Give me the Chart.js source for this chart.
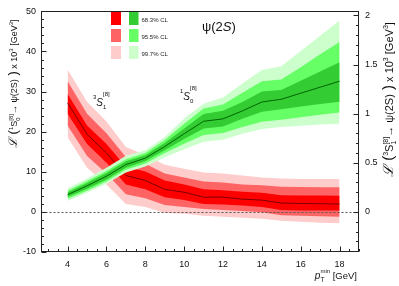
<!DOCTYPE html>
<html>
<head>
<meta charset="utf-8">
<script src="https://cdn.jsdelivr.net/npm/chart.js@4.4.1/dist/chart.umd.min.js"></script>
<style>
  html, body { margin: 0; padding: 0; background: #fff; }
  canvas { display: block; }
</style>
</head>
<body>
<canvas id="myChart" width="399" height="286"></canvas>
<script>
// pT min values [GeV]
const pT = [4, 5, 6, 7, 8, 9, 10, 11, 12, 13, 14, 15, 16, 17, 18];

// 3S1[8] (red) - right axis units
const redCentral = [1.11, 0.79, 0.60, 0.37, 0.32, 0.23, 0.20, 0.15, 0.15, 0.13, 0.12, 0.09, 0.086, 0.083, 0.08];
const red68Hi = [1.20, 0.88, 0.69, 0.46, 0.41, 0.32, 0.28, 0.23, 0.22, 0.205, 0.195, 0.17, 0.168, 0.166, 0.165];
const red68Lo = [1.00, 0.69, 0.50, 0.28, 0.23, 0.15, 0.12, 0.08, 0.075, 0.065, 0.05, 0.02, 0.015, 0.013, 0.013];
const red95Hi = [1.33, 1.00, 0.80, 0.56, 0.49, 0.39, 0.35, 0.31, 0.30, 0.28, 0.27, 0.255, 0.253, 0.25, 0.25];
const red95Lo = [0.88, 0.57, 0.39, 0.18, 0.14, 0.07, 0.05, 0.03, 0.02, 0.01, -0.004, -0.035, -0.04, -0.045, -0.05];
const red99Hi = [1.45, 1.12, 0.92, 0.66, 0.58, 0.48, 0.44, 0.40, 0.39, 0.37, 0.35, 0.34, 0.335, 0.335, 0.335];
const red99Lo = [0.76, 0.45, 0.28, 0.08, 0.05, -0.01, -0.02, -0.04, -0.05, -0.06, -0.07, -0.09, -0.10, -0.11, -0.115];

// 1S0[8] (green) - left axis units
const greenCentral = [4.3, 6.5, 8.9, 11.8, 13.4, 16.3, 19.5, 22.6, 23.2, 25.2, 27.4, 28.1, 29.6, 31.1, 32.6];
const green68Hi = [4.9, 7.2, 9.7, 12.6, 14.1, 17.2, 20.8, 24.4, 25.2, 27.4, 30.0, 30.4, 32.7, 35.0, 37.3];
const green68Lo = [3.7, 5.8, 8.1, 11.0, 12.7, 15.4, 18.2, 20.8, 21.3, 23.2, 25.0, 25.6, 26.3, 26.9, 27.5];
const green95Hi = [5.3, 7.7, 10.2, 13.1, 14.7, 17.9, 22.0, 25.8, 26.8, 29.7, 32.6, 33.0, 36.1, 39.3, 42.4];
const green95Lo = [3.3, 5.3, 7.6, 10.5, 12.1, 14.7, 17.0, 19.2, 19.7, 21.2, 22.5, 23.0, 23.6, 24.2, 24.8];
const green99Hi = [5.9, 8.3, 11.0, 14.0, 15.4, 18.7, 23.3, 27.0, 28.5, 32.0, 35.4, 36.3, 40.1, 43.9, 47.7];
const green99Lo = [2.7, 4.8, 7.0, 9.8, 11.3, 13.6, 15.6, 17.5, 18.0, 19.5, 20.7, 21.2, 21.5, 21.8, 22.0];

// tick labels
const xTicks = [4, 6, 8, 10, 12, 14, 16, 18];
const yTicks = [-10, 0, 10, 20, 30, 40, 50];
const y2Ticks = [0, 0.5, 1, 1.5, 2];
const clLabels = ['68.3% CL', '95.5% CL', '99.7% CL'];

const RED = ['#ff0000', '#ff6464', '#ffcccc'];
const GREEN = ['#33cc33', '#66ff66', '#ccffcc'];

const SANS = '"Liberation Sans", Arial, sans-serif';
function fnt(size, style) { return (style ? style + ' ' : '') + size + 'px ' + SANS; }

function pts(arr) { return pT.map((p, i) => ({ x: p, y: arr[i] })); }

// band = 2 datasets, upper filled down to lower
function band(hi, lo, color, axis, order) {
  return [
    { data: pts(hi), yAxisID: axis, fill: '+1', backgroundColor: color, borderWidth: 0, pointRadius: 0, order: order },
    { data: pts(lo), yAxisID: axis, fill: false, borderWidth: 0, pointRadius: 0, order: order }
  ];
}

const datasets = [
  ...band(red99Hi, red99Lo, RED[2], 'y2', 10),
  ...band(red95Hi, red95Lo, RED[1], 'y2', 9),
  ...band(red68Hi, red68Lo, RED[0], 'y2', 8),
  { data: pts(redCentral), yAxisID: 'y2', borderColor: '#7a0000', borderWidth: 1, pointRadius: 0, fill: false, order: 7 },
  ...band(green99Hi, green99Lo, GREEN[2], 'y', 6),
  ...band(green95Hi, green95Lo, GREEN[1], 'y', 5),
  ...band(green68Hi, green68Lo, GREEN[0], 'y', 4),
  { data: pts(greenCentral), yAxisID: 'y', borderColor: '#006600', borderWidth: 1, pointRadius: 0, fill: false, order: 3 }
];

// draws text pieces one after another, sup/sub via dy, 'under' stacks a second piece
function drawRich(ctx, x, y, segs) {
  let cx = x;
  segs.forEach(s => {
    ctx.font = s.font;
    ctx.fillText(s.t, cx, y + (s.dy || 0));
    let w = ctx.measureText(s.t).width;
    if (s.under) {
      ctx.font = s.under.font;
      ctx.fillText(s.under.t, cx, y + s.under.dy);
      w = Math.max(w, ctx.measureText(s.under.t).width);
    }
    cx += w;
  });
  return cx - x;
}

function richWidth(ctx, segs) {
  let w = 0;
  segs.forEach(s => {
    ctx.font = s.font;
    let sw = ctx.measureText(s.t).width;
    if (s.under) { ctx.font = s.under.font; sw = Math.max(sw, ctx.measureText(s.under.t).width); }
    w += sw;
  });
  return w;
}

function axisLabel(num, sub, m, small) {
  return [
    { t: 'ℒ', font: 'italic ' + (m + 3) + 'px "DejaVu Serif", serif' },
    { t: ' (', font: fnt(m + 4) },
    { t: num, font: fnt(small), dy: -m * 0.45 },
    { t: 'S', font: fnt(m) },
    { t: '[8]', font: fnt(small), dy: -m * 0.45, under: { t: sub, font: fnt(small), dy: m * 0.3 } },
    { t: '\u2192 ', font: fnt(m) },
    { t: '\u03c8(2S)', font: fnt(m) },
    { t: ' )', font: fnt(m + 4) },
    { t: ' x 10', font: fnt(m) },
    { t: '3', font: fnt(small), dy: -m * 0.45 },
    { t: ' [GeV', font: fnt(m) },
    { t: '3', font: fnt(small), dy: -m * 0.45 },
    { t: ']', font: fnt(m) }
  ];
}

const decorPlugin = {
  id: 'decor',
  afterDatasetsDraw(chart) {
    const { ctx, chartArea: a, scales } = chart;
    const sx = scales.x, sy = scales.y, sy2 = scales.y2;
    const L = Math.round(a.left) + 0.5, R = Math.round(a.right) - 0.5;
    const T = Math.round(a.top) + 0.5, B = Math.round(a.bottom) - 0.5;
    ctx.save();
    // dotted zero line
    ctx.strokeStyle = '#555';
    ctx.lineWidth = 1;
    ctx.setLineDash([2, 2]);
    const y0 = Math.round(sy.getPixelForValue(0)) + 0.5;
    ctx.beginPath(); ctx.moveTo(L, y0); ctx.lineTo(R, y0); ctx.stroke();
    ctx.setLineDash([]);
    // frame
    ctx.strokeStyle = '#222';
    ctx.strokeRect(L, T, R - L, B - T);
    // inward ticks
    ctx.beginPath();
    for (let v = 3; v <= 19; v += 0.5) {
      const px = Math.round(sx.getPixelForValue(v)) + 0.5;
      const len = xTicks.includes(v) ? 5 : 2.5;
      ctx.moveTo(px, B); ctx.lineTo(px, B - len);
    }
    for (let v = -10; v <= 50; v += 2) {
      const py = Math.round(sy.getPixelForValue(v)) + 0.5;
      const len = yTicks.includes(v) ? 5 : 2.5;
      ctx.moveTo(L, py); ctx.lineTo(L + len, py);
    }
    for (let k = -4; k <= 20; k++) {
      const v = k / 10;
      const py = Math.round(sy2.getPixelForValue(v)) + 0.5;
      const len = (k % 5 === 0) ? 5 : 2.5;
      ctx.moveTo(R, py); ctx.lineTo(R - len, py);
    }
    ctx.stroke();
    ctx.restore();
  },
  afterDraw(chart) {
    const ctx = chart.ctx;
    ctx.save();
    ctx.fillStyle = '#111';
    ctx.textAlign = 'left';
    ctx.textBaseline = 'alphabetic';

    // legend boxes
    const rowsY = [12, 29, 46];
    rowsY.forEach((ry, i) => {
      ctx.fillStyle = RED[i];
      ctx.fillRect(111, ry, 10, 13);
      ctx.fillStyle = GREEN[i];
      ctx.fillRect(129, ry, 9.5, 13);
      ctx.fillStyle = '#222';
      ctx.font = fnt(6);
      ctx.fillText(clLabels[i], 141.5, ry + 9.5);
    });

    // title
    ctx.fillStyle = '#111';
    drawRich(ctx, 202, 31, [
      { t: '\u03c8(2', font: fnt(13) },
      { t: 'S', font: fnt(13, 'italic') },
      { t: ')', font: fnt(13) }
    ]);

    // wave labels
    drawRich(ctx, 93, 106, [
      { t: '3', font: fnt(6), dy: -7 },
      { t: 'S', font: fnt(10, 'italic') },
      { t: '[8]', font: fnt(6), dy: -10, under: { t: '1', font: fnt(6), dy: 3 } }
    ]);
    drawRich(ctx, 180, 100, [
      { t: '1', font: fnt(6), dy: -7 },
      { t: 'S', font: fnt(10, 'italic') },
      { t: '[8]', font: fnt(6), dy: -10, under: { t: '0', font: fnt(6), dy: 3 } }
    ]);

    // x label, right aligned to axis end
    const xl = [
      { t: 'p', font: fnt(10, 'italic') },
      { t: 'T', font: fnt(6.5), dy: 3, under: { t: 'min', font: fnt(6), dy: -6 } },
      { t: ' [GeV]', font: fnt(9.5) }
    ];
    drawRich(ctx, 357 - richWidth(ctx, xl), 279, xl);

    // left axis title
    ctx.save();
    ctx.translate(17, 148);
    ctx.rotate(-Math.PI / 2);
    drawRich(ctx, 0, 0, axisLabel('1', '0', 9, 6));
    ctx.restore();

    // right axis title
    ctx.save();
    ctx.translate(393, 177);
    ctx.rotate(-Math.PI / 2);
    drawRich(ctx, 0, 0, axisLabel('3', '1', 11, 7));
    ctx.restore();

    ctx.restore();
  }
};

const tickFont = { family: SANS, size: 9 };

const ctx = document.getElementById('myChart').getContext('2d');
const myChart = new Chart(ctx, {
  type: 'line',
  data: { datasets: datasets },
  options: {
    responsive: false,
    animation: false,
    events: [],
    layout: { padding: { top: 7, left: 0, right: 0, bottom: 0 } },
    plugins: {
      legend: { display: false },
      tooltip: { enabled: false },
      filler: { propagate: false }
    },
    scales: {
      x: {
        type: 'linear',
        min: 2.63,
        max: 19.0,
        grid: { display: false, drawTicks: false },
        border: { display: false },
        afterBuildTicks: s => { s.ticks = xTicks.map(v => ({ value: v })); },
        afterFit: s => { s.height = 34; },
        ticks: { font: tickFont, color: '#111', padding: 7, maxRotation: 0, autoSkip: false, callback: v => String(v) }
      },
      y: {
        position: 'left',
        min: -10,
        max: 50,
        grid: { display: false, drawTicks: false },
        border: { display: false },
        afterBuildTicks: s => { s.ticks = yTicks.map(v => ({ value: v })); },
        afterFit: s => { s.width = 41; },
        ticks: { font: tickFont, color: '#111', padding: 5, callback: v => String(v) }
      },
      y2: {
        position: 'right',
        min: -10 / 24.5,
        max: 50 / 24.5,
        grid: { display: false, drawTicks: false },
        border: { display: false },
        afterBuildTicks: s => { s.ticks = y2Ticks.map(v => ({ value: v })); },
        afterFit: s => { s.width = 40; },
        ticks: { font: tickFont, color: '#111', padding: 6, callback: v => String(v) }
      }
    }
  },
  plugins: [decorPlugin]
});
</script>
</body>
</html>
